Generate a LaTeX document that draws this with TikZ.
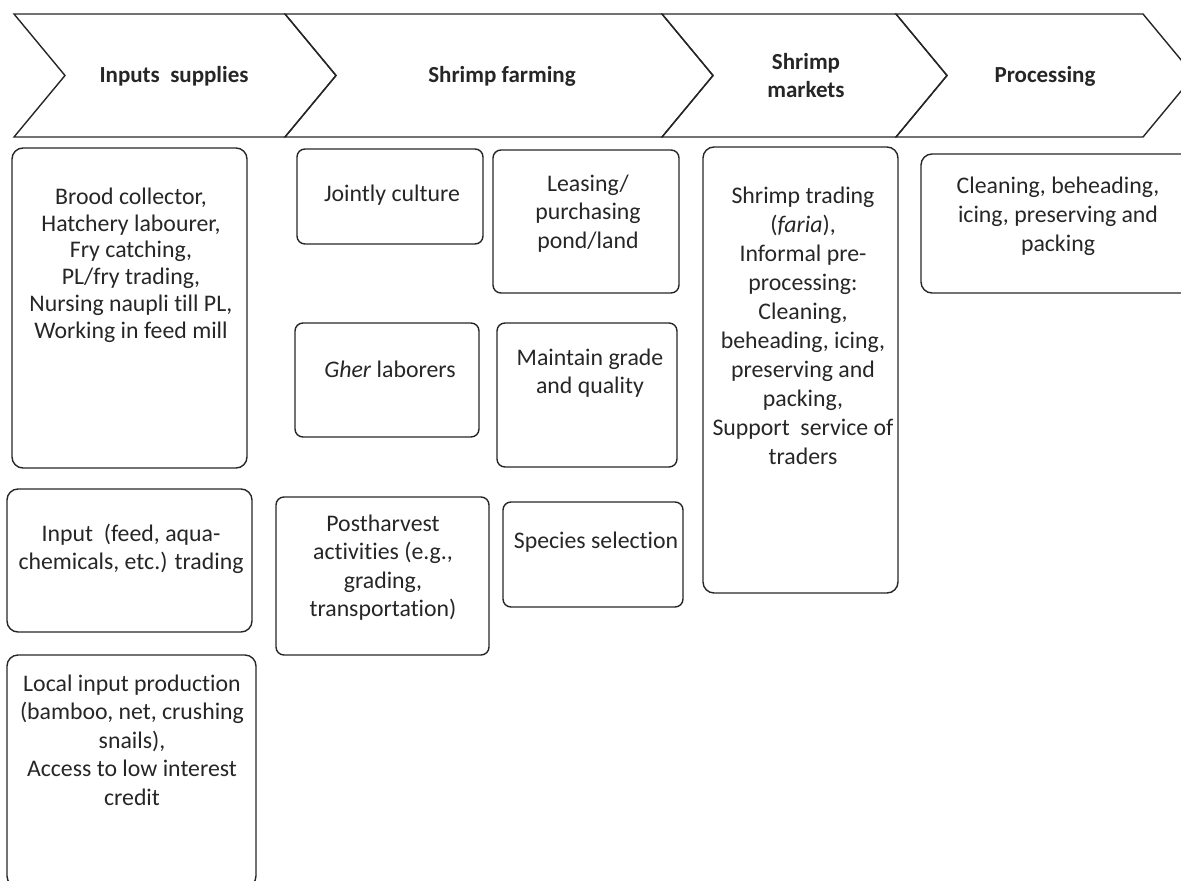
\documentclass[tikz,border=0pt]{standalone}
\usepackage{fontspec}
\setmainfont{Carlito}[RawFeature={-liga;-clig;-dlig}]
\begin{document}
\begin{tikzpicture}[x=1pt,y=-1pt,
  chev/.style={draw=black!85, line width=1.4pt, line join=miter},
  card/.style={draw=black!85, line width=1.4pt, rounded corners=11pt},
  head/.style={font=\fontsize{23}{28}\selectfont\bfseries, align=center, inner sep=0pt, text=black!85},
  txt/.style={font=\fontsize{23.8}{#1}\selectfont, align=center, inner sep=0pt, text=black!85},
  txt/.default=28.5
]
\useasboundingbox (0,0) rectangle (1181,881);
\clip (0,0) rectangle (1181,881);

% value chain stages
\draw[chev] (14,14) -- (285,14) -- (336,75.5) -- (285,137) -- (14,137) -- (65,75.5) -- cycle;
\draw[chev] (285,14) -- (662,14) -- (713,75.5) -- (662,137) -- (285,137) -- (336,75.5) -- cycle;
\draw[chev] (662,14) -- (896,14) -- (947,75.5) -- (896,137) -- (662,137) -- (713,75.5) -- cycle;
\draw[chev] (896,14) -- (1143,14) -- (1194,75.5) -- (1143,137) -- (896,137) -- (947,75.5) -- cycle;

\node[head] (h1) at (174,76) {Inputs\ \ supplies};
\node[head] (h2) at (502,76) {Shrimp farming};
\node[head] (h3) at (806,76) {Shrimp\\markets};
\node[head] (h4) at (1045,76) {Processing};

% inputs supplies
\draw[card] (12,148) rectangle (247,468);
\node[txt=26.8] (b1) at (131,265) {Brood collector,\\Hatchery labourer,\\Fry catching,\\PL/fry trading,\\Nursing naupli till PL,\\Working in feed mill};
\draw[card] (7,489) rectangle (252,632);
\node[txt=28] (b2) at (131,549) {Input\ \ (feed, aqua-\\chemicals, etc.) trading};
\draw[card] (7,655) rectangle (256,887);
\node[txt=28.5] (b3) at (132,740) {Local input production\\(bamboo, net, crushing\\snails),\\Access to low interest\\credit};

% shrimp farming
\draw[card, rounded corners=8pt] (297,149) rectangle (483,244);
\node[txt] (b4) at (392,195) {Jointly culture};
\draw[card, rounded corners=8pt] (493,150) rectangle (679,293);
\node[txt=28.5] (b5) at (588,213.5) {Leasing/\\purchasing\\pond/land};
\draw[card, rounded corners=8pt] (295,323) rectangle (479,437);
\node[txt] (b6) at (390,369) {\textit{Gher} laborers};
\draw[card, rounded corners=8pt] (497,323) rectangle (677,467);
\node[txt=28] (b7) at (590,373) {Maintain grade\\and quality};
\draw[card, rounded corners=8pt] (276,497) rectangle (489,655);
\node[txt=28.3] (b8) at (383,567.5) {Postharvest\\activities (e.g.,\\grading,\\transportation)};
\draw[card, rounded corners=8pt] (503,502) rectangle (683,607);
\node[txt] (b9) at (596,542) {Species selection};

% shrimp markets
\draw[card] (703,147) rectangle (898,593);
\node[txt=29] (b10) at (803,325.5) {Shrimp trading\\(\textit{faria}),\\Informal pre-\\processing:\\Cleaning,\\beheading, icing,\\preserving and\\packing,\\Support\ \ service of\\traders};

% processing
\draw[card] (921,154) rectangle (1195,293);
\node[txt=29] (b11) at (1058,216) {Cleaning, beheading,\\icing, preserving and\\packing};
\end{tikzpicture}
\end{document}
